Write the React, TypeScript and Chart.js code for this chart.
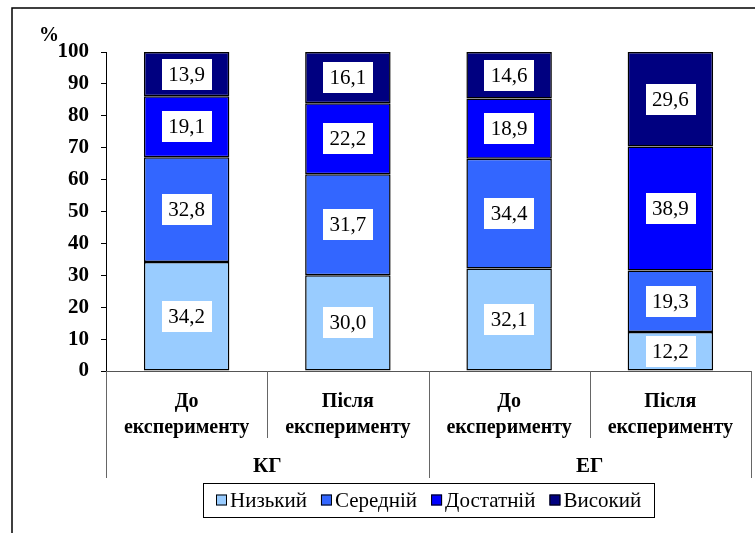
import React, { useEffect, useRef } from "react";
import { Chart, registerables } from "chart.js";

Chart.register(...registerables);

const categories = [
  ["До", "експерименту"],
  ["Після", "експерименту"],
  ["До", "експерименту"],
  ["Після", "експерименту"],
];
const groups = ["КГ", "ЕГ"];
const seriesNames = ["Низький", "Середній", "Достатній", "Високий"];
const seriesColors = ["#99CCFF", "#3366FF", "#0000FF", "#000080"];
const low = [34.2, 30.0, 32.1, 12.2];
const medium = [32.8, 31.7, 34.4, 19.3];
const sufficient = [19.1, 22.2, 18.9, 38.9];
const high = [13.9, 16.1, 14.6, 29.6];
const seriesData = [low, medium, sufficient, high];
const yMin = 0;
const yMax = 100;
const yStep = 10;
const yUnit = "%";

const FAMILY = '"Liberation Serif"';

const fmt = (v: number) => v.toFixed(1).replace(".", ",");

const labelsPlugin = {
  id: "valueLabels",
  afterDatasetsDraw(chart: any) {
    const ctx = chart.ctx;
    ctx.save();
    ctx.font = `21px ${FAMILY}`;
    ctx.textAlign = "center";
    ctx.textBaseline = "middle";
    chart.data.datasets.forEach((ds: any, i: number) => {
      const meta = chart.getDatasetMeta(i);
      meta.data.forEach((bar: any, j: number) => {
        const { x, y, base } = bar.getProps(["x", "y", "base"], true);
        const cy = (y + base) / 2;
        const text = fmt(ds.data[j]);
        const w = ctx.measureText(text).width + 13;
        const h = 31;
        ctx.fillStyle = "#fff";
        ctx.fillRect(Math.round(x - w / 2), Math.round(cy - h / 2), Math.round(w), h);
        ctx.fillStyle = "#000";
        ctx.fillText(text, x, cy + 1);
      });
    });
    ctx.restore();
  },
};

const decorPlugin = {
  id: "decor",
  afterDraw(chart: any) {
    const ctx = chart.ctx;
    const xs = chart.scales.x;
    const ys = chart.scales.y;
    ctx.save();
    // outer frame
    ctx.strokeStyle = "#000";
    ctx.lineWidth = 1.5;
    ctx.beginPath();
    ctx.moveTo(12, 533);
    ctx.lineTo(12, 8);
    ctx.lineTo(755, 8);
    ctx.stroke();

    // unit label
    ctx.fillStyle = "#000";
    ctx.font = `bold 20px ${FAMILY}`;
    ctx.textAlign = "center";
    ctx.textBaseline = "middle";
    ctx.fillText(yUnit, ys.left + 49, ys.top - 16);

    // category separators
    const n = categories.length;
    ctx.strokeStyle = "#666";
    ctx.lineWidth = 1;
    for (let i = 0; i <= n; i++) {
      let x: number;
      if (i === 0) x = xs.left;
      else if (i === n) x = xs.right;
      else x = (xs.getPixelForValue(i - 1) + xs.getPixelForValue(i)) / 2;
      const long = i % 2 === 0;
      const bottom = long ? xs.bottom : xs.top + 67;
      ctx.beginPath();
      ctx.moveTo(Math.round(x) + 0.5, xs.top);
      ctx.lineTo(Math.round(x) + 0.5, bottom);
      ctx.stroke();
    }

    // group labels
    ctx.fillStyle = "#000";
    ctx.font = `bold 21px ${FAMILY}`;
    groups.forEach((g, k) => {
      const cx = (xs.getPixelForValue(2 * k) + xs.getPixelForValue(2 * k + 1)) / 2;
      ctx.fillText(g, cx, xs.bottom - 11);
    });

    // legend
    ctx.font = `21px ${FAMILY}`;
    const marker = 11;
    const gapText = 3;
    const gapItem = 14;
    const inset = 13;
    const widths = seriesNames.map((s) => marker + gapText + ctx.measureText(s).width);
    const total = widths.reduce((a, b) => a + b, 0) + gapItem * (widths.length - 1) + inset * 2;
    const cx = (chart.chartArea.left + chart.chartArea.right) / 2;
    const lx = Math.round(cx - total / 2);
    const ly = Math.round(xs.bottom + 5);
    const lh = 34;
    ctx.fillStyle = "#fff";
    ctx.fillRect(lx, ly, total, lh);
    ctx.strokeStyle = "#000";
    ctx.lineWidth = 1;
    ctx.strokeRect(lx + 0.5, ly + 0.5, Math.round(total), lh);
    let px = lx + inset;
    const my = ly + lh / 2;
    ctx.textAlign = "left";
    seriesNames.forEach((s, i) => {
      ctx.fillStyle = seriesColors[i];
      ctx.fillRect(px, my - marker / 2, marker, marker);
      ctx.strokeStyle = "#000";
      ctx.strokeRect(px + 0.5, my - marker / 2 + 0.5, marker - 1, marker - 1);
      ctx.fillStyle = "#000";
      ctx.fillText(s, px + marker + gapText, my + 1);
      px += widths[i] + gapItem;
    });
    ctx.restore();
  },
};

export default function App() {
  const ref = useRef<HTMLCanvasElement>(null);
  useEffect(() => {
    document.body.style.margin = "0";
    const canvas = ref.current!;
    const chart = new Chart(canvas, {
      type: "bar",
      data: {
        labels: categories,
        datasets: seriesNames.map((name, i) => ({
          label: name,
          data: seriesData[i],
          backgroundColor: seriesColors[i],
          borderColor: "#000",
          borderWidth: 1.5,
          borderSkipped: false,
          barPercentage: 0.53,
          categoryPercentage: 1,
        })),
      },
      options: {
        responsive: false,
        animation: false,
        devicePixelRatio: 1,
        layout: { padding: { left: 0, top: 52, right: 4, bottom: 55 } },
        plugins: { legend: { display: false }, tooltip: { enabled: false } },
        scales: {
          x: {
            stacked: true,
            grid: { display: false, drawTicks: false },
            border: { display: true, color: "#555", width: 1 },
            ticks: {
              color: "#000",
              font: { family: FAMILY, size: 20, weight: "bold", lineHeight: 1.3 },
              padding: 18,
              maxRotation: 0,
              autoSkip: false,
            },
            afterFit: (s: any) => {
              s.height = 107;
            },
          },
          y: {
            stacked: true,
            min: yMin,
            max: yMax,
            ticks: {
              stepSize: yStep,
              color: "#000",
              font: { family: FAMILY, size: 21, weight: "bold" },
              padding: 12,
            },
            grid: { drawOnChartArea: false, drawTicks: true, tickLength: 5, color: "#000" },
            border: { color: "#000", width: 1 },
            afterFit: (s: any) => {
              s.width = 106;
            },
          },
        },
      },
      plugins: [labelsPlugin, decorPlugin],
    } as any);
    let alive = true;
    const fonts = (document as any).fonts;
    if (fonts && fonts.load) {
      Promise.all([
        fonts.load(`21px ${FAMILY}`),
        fonts.load(`bold 21px ${FAMILY}`),
      ]).then(() => {
        if (alive) chart.update();
      });
    }
    return () => {
      alive = false;
      chart.destroy();
    };
  }, []);
  return (
    <div style={{ position: "relative", width: 755, height: 533 }}>
      <span
        style={{
          position: "absolute",
          left: 0,
          top: 0,
          visibility: "hidden",
          fontFamily: "Liberation Serif",
        }}
      >
        Низький <b>експерименту</b>
      </span>
      <canvas ref={ref} width={755} height={533} style={{ position: "absolute", left: 0, top: 0 }} />
    </div>
  );
}
